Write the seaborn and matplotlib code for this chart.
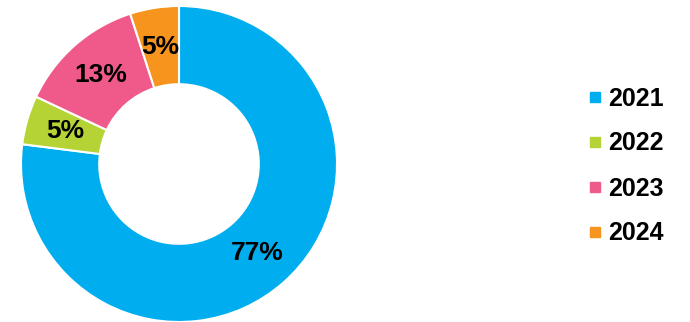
import matplotlib
matplotlib.use("Agg")
import matplotlib.pyplot as plt
from matplotlib.lines import Line2D
import seaborn as sns

years = ["2021", "2022", "2023", "2024"]
shares = [77, 5, 13, 5]
colors = ["#00AEEF", "#B5D334", "#F05A8A", "#F7941D"]

sns.set_theme(style="white")
plt.rcParams["font.family"] = ["Liberation Sans", "DejaVu Sans"]
plt.rcParams["text.color"] = "black"
palette = sns.color_palette(colors)

fig = plt.figure(figsize=(6.9, 3.22), dpi=100)
ax = fig.add_axes([21 / 690, 0 / 322, 316 / 690, 316 / 322])

wedges, texts, autotexts = ax.pie(
    shares,
    colors=palette,
    startangle=90,
    counterclock=False,
    radius=1.0,
    wedgeprops=dict(width=0.495, edgecolor="white", linewidth=1.5),
    autopct=lambda p: f"{p:.0f}%",
    pctdistance=0.75,
    textprops=dict(fontsize=19, fontweight="bold", color="black"),
)
ax.set_xlim(-1, 1)
ax.set_ylim(-1, 1)
ax.set_aspect("equal")
ax.axis("off")

handles = [
    Line2D([], [], marker="s", linestyle="none", markersize=7.9,
           markerfacecolor=c, markeredgecolor=c)
    for c in palette
]
fig.legend(
    handles, years,
    loc="center left",
    bbox_to_anchor=(589 / 690, (322 - 166) / 322),
    frameon=False,
    prop=dict(size=18, weight="bold"),
    labelcolor="black",
    handlelength=0.5,
    handletextpad=0.26,
    labelspacing=0.84,
    borderpad=0,
    borderaxespad=0,
)

fig.savefig("out.png", dpi=100, facecolor="white")
